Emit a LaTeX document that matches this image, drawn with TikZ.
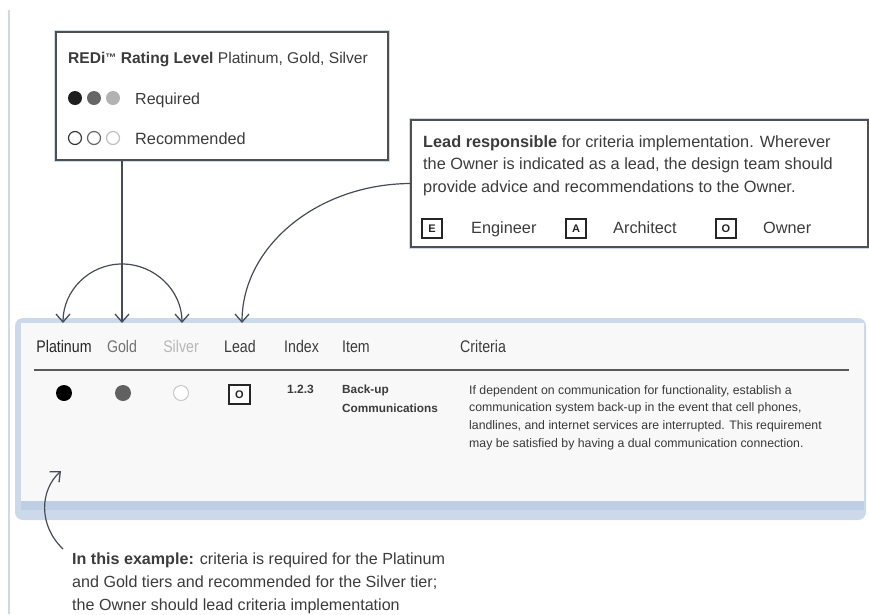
\documentclass[tikz,border=0pt]{standalone}
\usepackage{fontspec}
\setmainfont{Liberation Sans}
\newfontfamily\condfont[FakeStretch=0.845]{Liberation Sans}
\usetikzlibrary{arrows.meta}
\definecolor{halo}{RGB}{203,217,235}
\definecolor{halodark}{RGB}{190,207,229}
\definecolor{boxgray}{RGB}{80,80,80}
\definecolor{txtgray}{RGB}{60,60,60}
\definecolor{panelfill}{RGB}{248,248,248}
\definecolor{connc}{RGB}{70,75,85}
\tikzset{
  infobox/.style={draw=boxgray, line width=1.3pt, fill=white, inner sep=0pt,
    preaction={draw=halo, line width=4.5pt}},
  txt/.style={inner sep=0pt, anchor=base west, text=txtgray, font=\fontsize{16}{19}\selectfont},
  leadtxt/.style={txt, font=\fontsize{16.3}{19}\selectfont},
  notetxt/.style={txt, font=\fontsize{16.1}{19}\selectfont},
  headtxt/.style={inner sep=0pt, anchor=base, text=txtgray, font=\condfont\fontsize{16.8}{19}\selectfont},
  crittxt/.style={inner sep=0pt, anchor=base west, text=txtgray!95!black, font=\fontsize{12.3}{14}\selectfont},
  dotnode/.style={circle, inner sep=0pt, minimum size=14pt},
  rowdot/.style={circle, inner sep=0pt, minimum size=16pt},
  letterbox/.style={draw=black!85, line width=1.1pt, fill=white, inner sep=0pt,
    minimum width=20pt, minimum height=19pt, text=black!85, font=\bfseries\fontsize{11}{12}\selectfont},
  conn/.style={draw=connc, line width=1.2pt},
  barb/.tip={Straight Barb[length=8pt,width=14pt,line width=1.3pt]},
}
\begin{document}
\begin{tikzpicture}[x=1pt,y=-1pt]
\useasboundingbox (0,0) rectangle (869,614);
\fill[white] (0,0) rectangle (869,614);
% left guide line
\draw[halo, line width=1.5pt] (9,10) -- (9,614);

% table panel
\fill[halo, rounded corners=8pt] (15,318) rectangle (866,520);
\fill[halodark] (21,501) rectangle (864,510);
\node[fill=panelfill, inner sep=0pt, minimum width=843pt, minimum height=178pt] (panel) at (442.5,412) {};

% header
\node[headtxt, text=black!85] (hplat) at (64,352) {Platinum};
\node[headtxt, text=black!55] (hgold) at (122,352) {Gold};
\node[headtxt, text=black!28] (hsilv) at (181,352) {Silver};
\node[headtxt] (hlead) at (240,352) {Lead};
\node[headtxt, anchor=base west] (hindex) at (284,352) {Index};
\node[headtxt, anchor=base west] (hitem) at (342,352) {Item};
\node[headtxt, anchor=base west] (hcrit) at (460,352) {Criteria};
\draw[black!65, line width=2pt] (34,370) -- (849,370);

% row
\node[rowdot, fill=black] (dplat) at (64,393) {};
\node[rowdot, fill=black!62] (dgold) at (123,393) {};
\node[rowdot, fill=white, draw=black!22, line width=1pt, minimum size=15pt] (dsilv) at (181,393) {};
\node[letterbox, minimum width=21pt] (rowlead) at (239.5,394.5) {O};
\node[inner sep=0pt, anchor=base west, text=txtgray, font=\bfseries\fontsize{12}{14}\selectfont] (idx) at (287,393) {1.2.3};
\node[inner sep=0pt, anchor=base west, text=txtgray, font=\bfseries\fontsize{11.8}{14}\selectfont] (item1) at (342,393) {Back-up};
\node[inner sep=0pt, anchor=base west, text=txtgray, font=\bfseries\fontsize{11.8}{14}\selectfont] (item2) at (342,412) {Communications};
\node[crittxt] (c1) at (469,394) {If dependent on communication for functionality, establish a};
\node[crittxt] (c2) at (469,411.7) {communication system back-up in the event that cell phones,};
\node[crittxt] (c3) at (469,429.4) {landlines, and internet services are interrupted. This requirement};
\node[crittxt] (c4) at (469,447) {may be satisfied by having a dual communication connection.};

% rating box
\node[infobox, minimum width=332pt, minimum height=128pt] (rating) at (222,96) {};
\node[txt, font=\fontsize{15.6}{19}\selectfont] (rtitle) at (68,63) {\textbf{REDi{\fontsize{11}{12}\selectfont\raisebox{1.5pt}{™}} Rating Level} Platinum, Gold, Silver};
\node[dotnode, fill=black!88] (rq1) at (75,98) {};
\node[dotnode, fill=black!60] (rq2) at (94,98) {};
\node[dotnode, fill=black!30] (rq3) at (113,98) {};
\node[txt] (rqt) at (135,104) {Required};
\node[dotnode, draw=black!78, line width=1.2pt, minimum size=13pt] (rc1) at (75,138) {};
\node[dotnode, draw=black!60, line width=1.2pt, minimum size=13pt] (rc2) at (94,138) {};
\node[dotnode, draw=black!25, line width=1.2pt, minimum size=13pt] (rc3) at (113,138) {};
\node[txt, font=\fontsize{16.3}{19}\selectfont] (rct) at (135,144) {Recommended};

% lead box
\node[infobox, minimum width=457pt, minimum height=127pt] (leadbox) at (639.5,183.5) {};
\node[leadtxt] (l1) at (423,147) {\textbf{Lead responsible} for criteria implementation. Wherever};
\node[leadtxt] (l2) at (423,169.5) {the Owner is indicated as a lead, the design team should};
\node[leadtxt] (l3) at (423,192) {provide advice and recommendations to the Owner.};
\node[letterbox] (be) at (432,228.5) {E};
\node[leadtxt] (te) at (471,233.5) {Engineer};
\node[letterbox] (ba) at (576,228.5) {A};
\node[leadtxt] (ta) at (613,233.5) {Architect};
\node[letterbox] (bo) at (726,228.5) {O};
\node[leadtxt] (to) at (763,233.5) {Owner};

% connectors
\coordinate (plattip) at (63,323);
\coordinate (goldtip) at (122,323);
\coordinate (silvtip) at (182,323);
\coordinate (leadtip) at (242,323);
\coordinate (archtop) at (122,264);
\draw[conn, -{barb}] (rating.south -| goldtip) -- (goldtip);
\draw[conn, {barb}-{barb}] (plattip) .. controls (63,290.4) and (89.4,264) .. (archtop)
   .. controls (154.6,264) and (182,290.4) .. (silvtip);
\draw[conn, -{barb}] (leadbox.west) .. controls (318,184) and (242,246) .. (leadtip);

% example note
\node[notetxt] (n1) at (72,564) {\textbf{In this example:} criteria is required for the Platinum};
\node[notetxt] (n2) at (72,587) {and Gold tiers and recommended for the Silver tier;};
\node[notetxt] (n3) at (72,610.5) {the Owner should lead criteria implementation};
\coordinate (notetip) at (61,471);
\draw[conn, -{barb}] (63,549) .. controls (38,525) and (40,490) .. (notetip);
\end{tikzpicture}
\end{document}
